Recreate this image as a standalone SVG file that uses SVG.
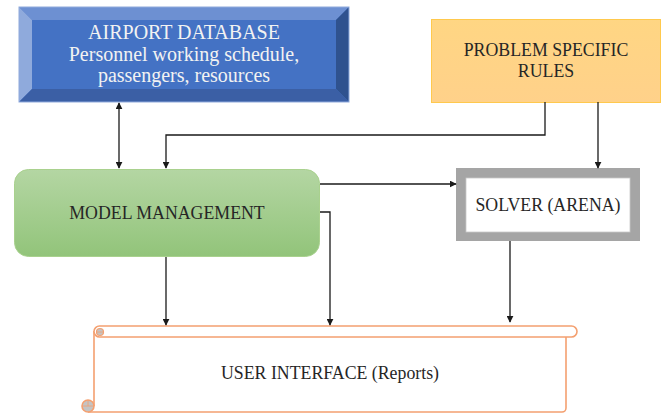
<svg xmlns="http://www.w3.org/2000/svg" width="665" height="417" viewBox="0 0 665 417">
  <style>
    text { font-family: "Liberation Serif", "DejaVu Serif", serif; text-anchor: middle; }
    .lbl { fill: #262626; font-size: 17.8px; }
    .db { fill: #f2f2f2; font-size: 20px; }
    .wire { fill: none; stroke: #1a1a1a; stroke-width: 1.3; }
  </style>
  <defs>
    <marker id="head" viewBox="0 0 10 10" refX="9" refY="5" markerWidth="7" markerHeight="7" orient="auto-start-reverse" markerUnits="userSpaceOnUse">
      <path d="M0,0 L10,5 L0,10 z" fill="#1a1a1a"/>
    </marker>
    <linearGradient id="green" x1="0" y1="0" x2="0" y2="1">
      <stop offset="0" stop-color="#b4d6a3"/>
      <stop offset="1" stop-color="#92c47a"/>
    </linearGradient>
    <linearGradient id="amber" x1="0" y1="0" x2="0" y2="1">
      <stop offset="0" stop-color="#ffd683"/>
      <stop offset="1" stop-color="#ffd18a"/>
    </linearGradient>
  </defs>

  <!-- database: bevelled block -->
  <g id="airport-database">
    <rect x="19" y="7" width="330" height="95" fill="#4472c4"/>
    <polygon points="19,7 349,7 336,20 32,20" fill="#6d90d2"/>
    <polygon points="19,7 32,20 32,89 19,102" fill="#8faadc"/>
    <polygon points="349,7 349,102 336,89 336,20" fill="#2f528f"/>
    <polygon points="19,102 349,102 336,89 32,89" fill="#3b5fa5"/>
    <rect x="19" y="7" width="330" height="95" fill="none" stroke="#8faadc" stroke-width="1"/>
    <text class="db" x="184" y="39">AIRPORT DATABASE</text>
    <text class="db" x="184" y="61">Personnel working schedule,</text>
    <text class="db" x="184" y="82">passengers, resources</text>
  </g>

  <g id="problem-rules">
    <rect x="431.5" y="19.5" width="229" height="83" fill="url(#amber)" stroke="#ffc94d" stroke-width="1"/>
    <text class="lbl" x="546" y="56">PROBLEM SPECIFIC</text>
    <text class="lbl" x="546" y="77">RULES</text>
  </g>

  <g id="model-management">
    <rect x="14.5" y="169.5" width="305" height="87" rx="14" fill="url(#green)" stroke="#a9d18e" stroke-width="1"/>
    <text class="lbl" x="167" y="219">MODEL MANAGEMENT</text>
  </g>

  <g id="solver">
    <rect x="456" y="168" width="184" height="73" fill="#a5a5a5"/>
    <rect x="466" y="178" width="164" height="54" fill="#ffffff" stroke="#c8c8c8" stroke-width="0.8"/>
    <text class="lbl" x="548" y="211">SOLVER (ARENA)</text>
  </g>

  <!-- report scroll -->
  <g id="user-interface" fill="#ffffff" stroke="#f4a070" stroke-width="1.6">
    <path d="M94,331 V406 M88,412 H562 A4,4 0 0 0 566,408 V337" fill="none"/>
    <rect x="94" y="326" width="483" height="11" rx="5.5" fill="#ffffff"/>
    <circle cx="100" cy="332" r="3.5" fill="#c4c4c4" stroke-width="1.2"/>
    <path d="M96.5,332 H103.5" stroke-width="0.8"/>
    <circle cx="88" cy="406" r="6" fill="#c4c4c4"/>
    <path d="M82,406 H94 M88,406 V400" stroke-width="0.8"/>
    <text class="lbl" x="330" y="379" stroke="none" fill="#262626">USER INTERFACE (Reports)</text>
  </g>

  <g id="connectors" class="wire">
    <path class="wire" d="M119,103 V168" marker-start="url(#head)" marker-end="url(#head)"/>
    <path class="wire" d="M545,102 V135 H166 V168" marker-end="url(#head)"/>
    <path class="wire" d="M598,102 V168" marker-end="url(#head)"/>
    <path class="wire" d="M320,184 H456" marker-end="url(#head)"/>
    <path class="wire" d="M320,212 H330 V325" marker-end="url(#head)"/>
    <path class="wire" d="M166,257 V325" marker-end="url(#head)"/>
    <path class="wire" d="M510,241 V322" marker-end="url(#head)"/>
  </g>
</svg>
